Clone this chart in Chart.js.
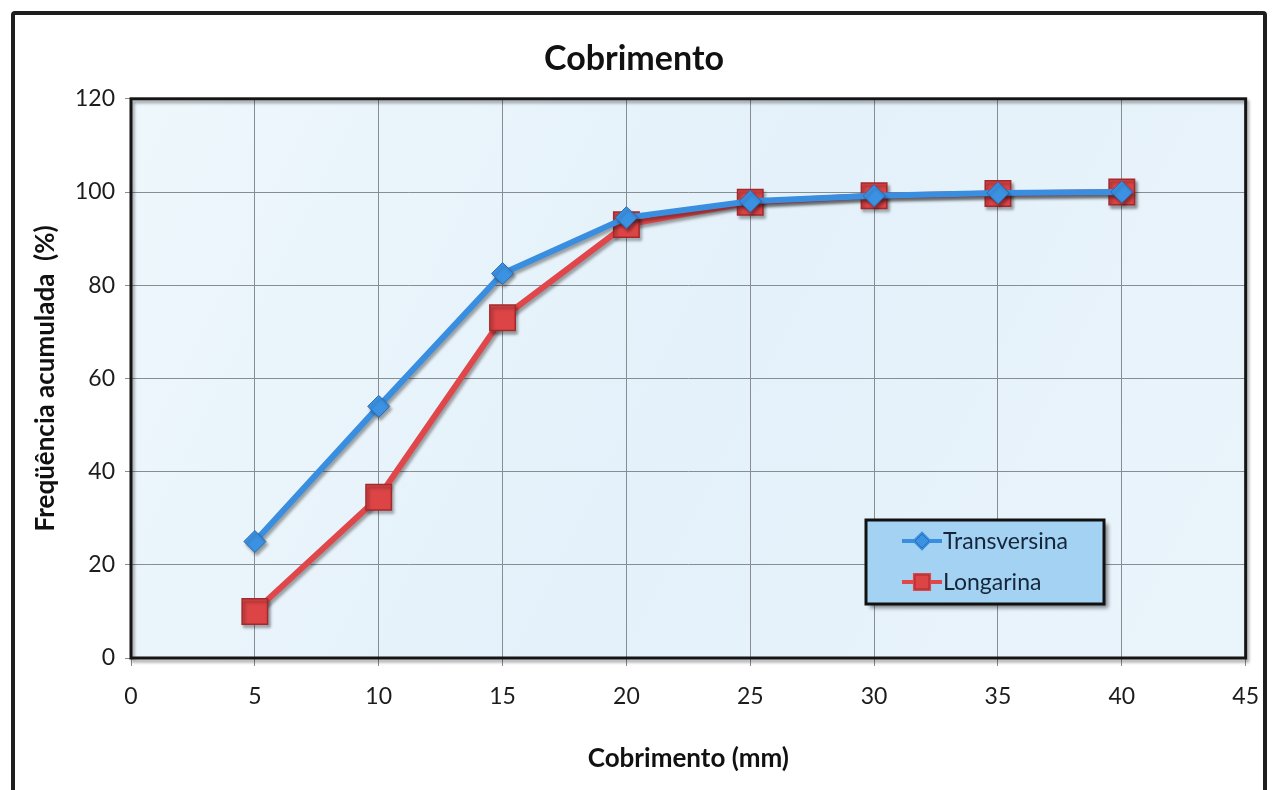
<!DOCTYPE html>
<html>
<head>
<meta charset="utf-8">
<script src="https://cdn.jsdelivr.net/npm/chart.js@4/dist/chart.umd.min.js"></script>
<style>
  html, body { margin: 0; padding: 0; background: #fff; }
  #wrap { position: relative; width: 1276px; height: 790px; }
  #frame {
    position: absolute; left: 11px; top: 11px; width: 1256px; height: 790px;
    border: 4px solid #1e1e1e; border-radius: 4px; box-sizing: border-box;
  }
  canvas { position: absolute; left: 0; top: 0; }
</style>
</head>
<body>
<div id="wrap">
  <div id="frame"></div>
  <canvas id="cobrimentoChart" width="1276" height="790"></canvas>
</div>
<script>
  const cobrimento = [5, 10, 15, 20, 25, 30, 35, 40];
  const transversina = [25, 54, 82.5, 94.5, 98, 99.2, 99.8, 100];
  const longarina = [10, 34.5, 73, 93, 97.8, 99.2, 99.7, 100];
  const xTicks = [0, 5, 10, 15, 20, 25, 30, 35, 40, 45];
  const yTicks = [0, 20, 40, 60, 80, 100, 120];

  const fontFam = "Lato, 'Open Sans', sans-serif";

  // fundo do grafico e moldura preta
  const plotArea = {
    id: 'plotArea',
    beforeDraw(chart) {
      const { ctx, chartArea: a } = chart;
      ctx.save();
      const g = ctx.createLinearGradient(a.left, a.top, a.right, a.bottom);
      g.addColorStop(0, '#eef7fc');
      g.addColorStop(0.5, '#e4f1fa');
      g.addColorStop(1, '#eaf4fb');
      ctx.fillStyle = g;
      ctx.fillRect(a.left, a.top, a.right - a.left, a.bottom - a.top);
      ctx.restore();
    },
    afterDraw(chart) {
      const { ctx, chartArea: a } = chart;
      ctx.save();
      ctx.shadowColor = 'rgba(0,0,0,0.35)';
      ctx.shadowOffsetX = 2;
      ctx.shadowOffsetY = 3;
      ctx.shadowBlur = 3;
      ctx.strokeStyle = '#151515';
      ctx.lineWidth = 3;
      ctx.strokeRect(a.left, a.top, a.right - a.left, a.bottom - a.top);
      ctx.restore();
      drawLegend(chart);
    },
    beforeDatasetsDraw(chart) {
      const ctx = chart.ctx;
      ctx.save();
      ctx.shadowColor = 'rgba(0,0,0,0.35)';
      ctx.shadowOffsetX = 2;
      ctx.shadowOffsetY = 3;
      ctx.shadowBlur = 3;
    },
    afterDatasetsDraw(chart) {
      chart.ctx.restore();
    }
  };

  function drawLegend(chart) {
    const ctx = chart.ctx;
    const x = 866, y = 520, w = 238, h = 84;
    ctx.save();
    ctx.shadowColor = 'rgba(0,0,0,0.45)';
    ctx.shadowOffsetX = 4;
    ctx.shadowOffsetY = 4;
    ctx.shadowBlur = 4;
    ctx.fillStyle = '#a3d2f2';
    ctx.fillRect(x, y, w, h);
    ctx.shadowColor = 'transparent';
    ctx.strokeStyle = '#111';
    ctx.lineWidth = 3;
    ctx.strokeRect(x, y, w, h);
    chart.data.datasets.forEach((ds, i) => {
      const cy = y + 21 + i * 41;
      ctx.strokeStyle = ds.borderColor;
      ctx.lineWidth = 4;
      ctx.beginPath();
      ctx.moveTo(x + 36, cy);
      ctx.lineTo(x + 76, cy);
      ctx.stroke();
      Chart.helpers.drawPoint(ctx, {
        pointStyle: ds.pointStyle,
        radius: ds.pointStyle === 'rect' ? 10 : 7,
        rotation: 0,
        borderWidth: 1
      }, x + 56, cy);
      ctx.fillStyle = ds.pointBackgroundColor;
      ctx.strokeStyle = ds.pointBorderColor;
      ctx.lineWidth = 1;
      ctx.fill();
      ctx.stroke();
      ctx.fillStyle = '#16263a';
      ctx.font = '23px ' + fontFam;
      ctx.textBaseline = 'middle';
      ctx.fillText(ds.label, x + 77, cy + 1);
    });
    ctx.restore();
  }

  new Chart(document.getElementById('cobrimentoChart'), {
    type: 'line',
    data: {
      datasets: [
        {
          label: 'Transversina',
          data: cobrimento.map((c, i) => ({ x: c, y: transversina[i] })),
          borderColor: '#3a8ee0',
          borderWidth: 6,
          pointStyle: 'rectRot',
          pointRadius: 11,
          pointBackgroundColor: '#3c92e2',
          pointBorderColor: '#2a6cb8',
          pointBorderWidth: 1,
          tension: 0
        },
        {
          label: 'Longarina',
          data: cobrimento.map((c, i) => ({ x: c, y: longarina[i] })),
          borderColor: '#e0474b',
          borderWidth: 6,
          pointStyle: 'rect',
          pointRadius: 18,
          pointBackgroundColor: '#dc4446',
          pointBorderColor: '#a22a2c',
          pointBorderWidth: 1.5,
          tension: 0
        }
      ]
    },
    options: {
      responsive: false,
      animation: false,
      layout: { padding: { left: 20, right: 28, top: 0, bottom: 14 } },
      plugins: {
        legend: { display: false },
        tooltip: { enabled: false },
        title: {
          display: true,
          text: 'Cobrimento',
          color: '#111',
          font: { family: fontFam, size: 34, weight: 'bold' },
          padding: { top: 39, bottom: 19 }
        }
      },
      scales: {
        x: {
          type: 'linear',
          min: 0,
          max: 45,
          afterBuildTicks(scale) { scale.ticks = xTicks.map(v => ({ value: v })); },
          afterFit(scale) { scale.height = 118; },
          grid: { color: '#868d93', lineWidth: 1, tickLength: 8, drawTicks: true },
          border: { display: false },
          ticks: { color: '#1c1c1c', padding: 17, font: { family: fontFam, size: 23 } },
          title: {
            display: true,
            text: 'Cobrimento (mm)',
            color: '#111',
            font: { family: fontFam, size: 26, weight: 'bold' },
            padding: { top: 0, bottom: 2 }
          }
        },
        y: {
          min: 0,
          max: 120,
          afterBuildTicks(scale) { scale.ticks = yTicks.map(v => ({ value: v })); },
          afterFit(scale) { scale.width = 111; },
          grid: { color: '#868d93', lineWidth: 1, tickLength: 6 },
          border: { display: false },
          ticks: { color: '#1c1c1c', padding: 10, font: { family: fontFam, size: 23 } },
          title: {
            display: true,
            text: 'Freqüência acumulada  (%)',
            color: '#111',
            font: { family: fontFam, size: 26, weight: 'bold' },
            padding: { top: 10, bottom: 0 }
          }
        }
      }
    },
    plugins: [plotArea]
  });
</script>
</body>
</html>
